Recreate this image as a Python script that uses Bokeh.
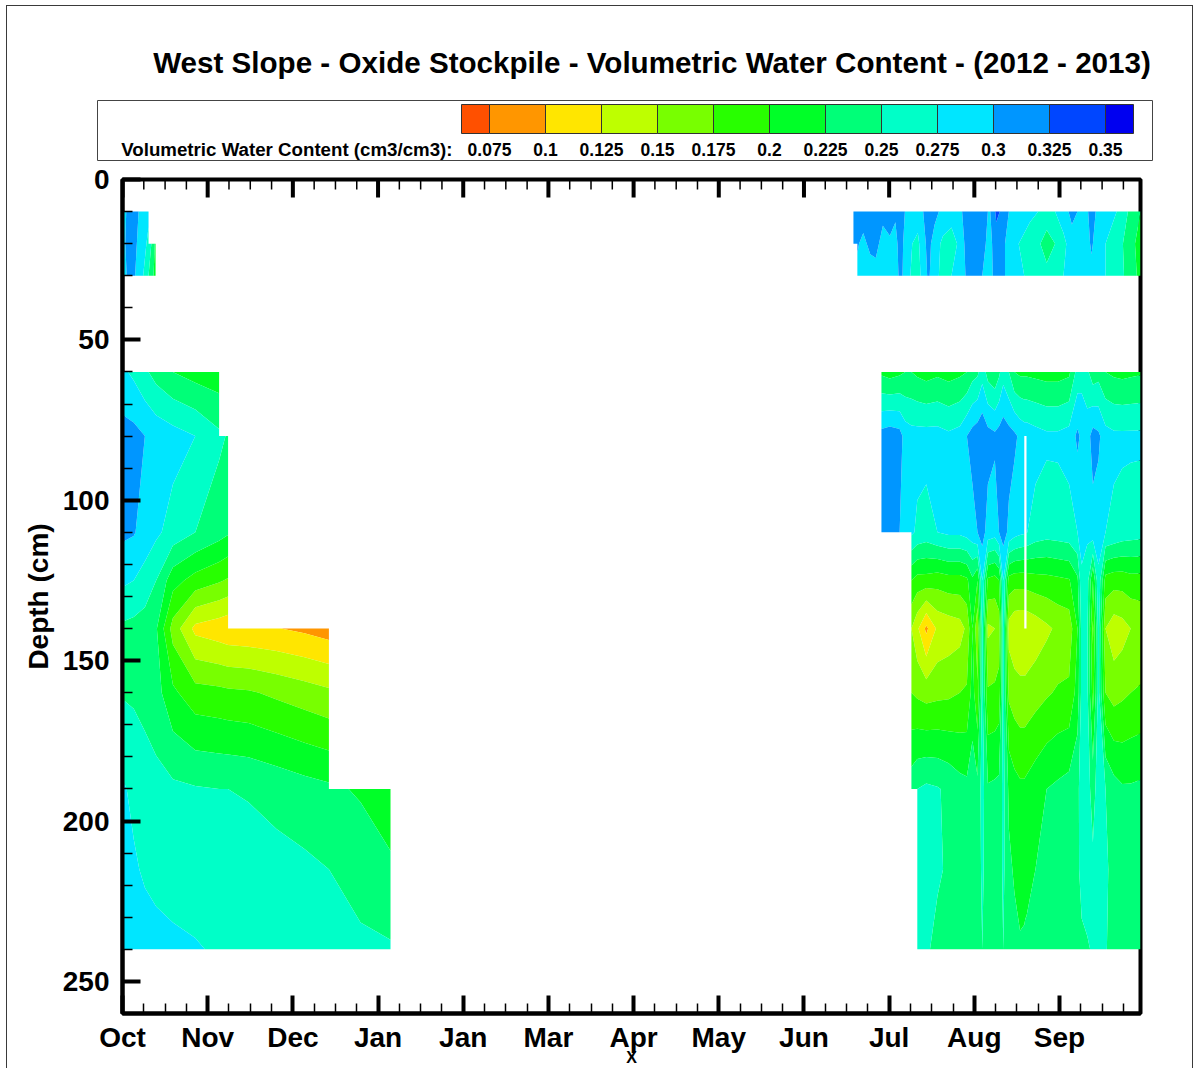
import numpy as np
from bokeh.plotting import figure
from bokeh.layouts import column
from bokeh.models import Range1d, FixedTicker
from bokeh.core.properties import value
from bokeh.embed import file_html
from bokeh.resources import INLINE

nan = float("nan")

# ---------------------------------------------------------------- texts / ticks
TITLE = "West Slope - Oxide Stockpile - Volumetric Water Content - (2012 - 2013)"
LEGEND_TITLE = "Volumetric Water Content (cm3/cm3):"
MONTH_LABELS = ["Oct", "Nov", "Dec", "Jan", "Jan", "Mar", "Apr", "May", "Jun", "Jul", "Aug", "Sep"]
MONTH_TICKS = list(range(12))
MINOR_MONTH_TICKS = [k / 4 for k in range(48) if k % 4]
DEPTH_TICKS = [0, 50, 100, 150, 200, 250]
MINOR_DEPTH_TICKS = list(range(0, 261, 10))
Y_LABEL = "Depth (cm)"
X_LABEL = "X"

# ---------------------------------------------------------------- colour levels
LEVELS = [0.075, 0.1, 0.125, 0.15, 0.175, 0.2, 0.225, 0.25, 0.275, 0.3, 0.325, 0.35]
COLORS = ["#ff5000", "#ff9600", "#ffe600", "#beff00", "#78ff00", "#28ff00", "#00ff28",
          "#00ff78", "#00ffc8", "#00e6ff", "#0096ff", "#0046ff", "#0000f0"]

DAYS_PER_MONTH = 365 / 12
X_END_DAYS = 363.5
DEPTH_MAX = 260

# ---------------------------------------------------------------- sensor data
TOP_DEPTHS = [10, 20, 30]
LOW_DEPTHS = [60, 80, 110, 125, 140, 160, 190, 215, 240]

# upper sensors, autumn 2012 (days since 1 Oct 2012)
TL_DAYS = [0, 2, 4.5, 7, 9.3, 11.8]
TL_VWC = [
    [0.29, 0.305, 0.31, 0.29, 0.28, nan],
    [0.29, 0.31, 0.305, 0.285, 0.27, 0.22],
    [0.285, 0.305, 0.30, 0.28, 0.25, 0.215],
]

# upper sensors, summer 2013
TR_DAYS = [261, 262.4, 264.5, 267, 269, 271.5, 274, 276, 277.8, 280, 284, 287.8, 290, 293,
           296, 299, 301, 303, 305, 307, 309.5, 312, 314.5, 317, 320, 324, 327, 330, 333,
           336, 339, 342, 344, 346, 348, 351, 355, 359, 363.5]
TR_VWC = [
    [0.315, 0.318, 0.31, 0.32, 0.322, 0.308, 0.315, 0.305, 0.325, 0.29, 0.285, 0.315, 0.31, 0.29,
     0.285, 0.29, 0.315, 0.31, 0.325, 0.32, 0.295, 0.33, 0.32, 0.295, 0.29, 0.28, 0.275, 0.27,
     0.275, 0.285, 0.31, 0.295, 0.29, 0.315, 0.295, 0.285, 0.275, 0.25, 0.225],
    [0.308, 0.302, 0.295, 0.305, 0.308, 0.29, 0.295, 0.29, 0.315, 0.28, 0.27, 0.31, 0.285, 0.27,
     0.265, 0.28, 0.305, 0.30, 0.315, 0.31, 0.29, 0.315, 0.305, 0.285, 0.275, 0.265, 0.255,
     0.235, 0.25, 0.27, 0.285, 0.285, 0.285, 0.305, 0.285, 0.275, 0.265, 0.238, 0.215],
    [nan, 0.295, 0.29, 0.29, 0.29, 0.285, 0.285, 0.285, 0.31, 0.28, 0.265, 0.305, 0.28, 0.27,
     0.275, 0.285, 0.30, 0.305, 0.31, 0.30, 0.29, 0.31, 0.305, 0.285, 0.28, 0.27, 0.265, 0.26,
     0.265, 0.275, 0.28, 0.28, 0.28, 0.29, 0.28, 0.275, 0.265, 0.242, 0.218],
]

# lower sensors, autumn 2012
LB_DAYS = [0, 4, 8, 12, 18, 26, 34.5, 37.7, 45, 55, 65, 73.7, 85, 95.7]
LB_VWC = [
    [0.28, 0.27, 0.255, 0.24, 0.225, 0.215, 0.21, nan, nan, nan, nan, nan, nan, nan],
    [0.31, 0.308, 0.30, 0.292, 0.285, 0.275, 0.255, 0.248, nan, nan, nan, nan, nan, nan],
    [0.305, 0.302, 0.29, 0.28, 0.265, 0.25, 0.235, 0.228, nan, nan, nan, nan, nan, nan],
    [0.28, 0.275, 0.265, 0.25, 0.21, 0.19, 0.178, 0.172, nan, nan, nan, nan, nan, nan],
    [0.245, 0.242, 0.238, 0.228, 0.165, 0.118, 0.11, 0.106, 0.104, 0.101, 0.095, 0.088, nan, nan],
    [0.248, 0.246, 0.242, 0.235, 0.205, 0.185, 0.182, 0.18, 0.178, 0.17, 0.162, 0.155, nan, nan],
    [0.278, 0.27, 0.262, 0.258, 0.255, 0.252, 0.25, 0.25, 0.248, 0.242, 0.235, 0.23, 0.222, 0.215],
    [0.285, 0.278, 0.272, 0.268, 0.265, 0.263, 0.262, 0.261, 0.26, 0.258, 0.255, 0.25, 0.24, 0.228],
    [0.29, 0.288, 0.285, 0.283, 0.28, 0.277, 0.272, 0.27, 0.267, 0.263, 0.26, 0.258, 0.255, 0.253],
]

# lower sensors, summer 2013
RB_DAYS = [271, 274, 277.5, 279.5, 281.7, 283.8, 287, 291, 295, 299, 301.5, 303.5, 305.3, 307,
           309, 311.5, 313, 314.5, 316.5, 318.5, 320.5, 322.0, 322.4, 322.8, 326, 330, 334, 338,
           341, 342.5, 344.5, 346.5, 348.5, 351, 354, 357, 360, 363.5]
RB_VWC = [
    [0.22, 0.215, 0.22, 0.225, 0.225, 0.22, 0.215, 0.22, 0.215, 0.22, 0.225, 0.24, 0.245, 0.265,
     0.24, 0.23, 0.245, 0.265, 0.25, 0.225, 0.22, 0.22, 0.22, 0.22, 0.218, 0.215, 0.215, 0.22,
     0.26, 0.265, 0.255, 0.235, 0.24, 0.225, 0.22, 0.218, 0.22, 0.222],
    [0.31, 0.315, 0.31, 0.29, 0.285, 0.285, 0.285, 0.285, 0.28, 0.285, 0.30, 0.31, 0.315, 0.32,
     0.31, 0.305, 0.31, 0.315, 0.31, 0.305, 0.295, 0.29, 0.29, 0.29, 0.285, 0.28, 0.28, 0.285,
     0.305, 0.295, 0.29, 0.31, 0.305, 0.285, 0.28, 0.28, 0.28, 0.28],
    [0.31, 0.31, 0.30, 0.29, 0.28, 0.27, 0.265, 0.275, 0.28, 0.28, 0.285, 0.29, 0.30, 0.31,
     0.29, 0.285, 0.30, 0.31, 0.295, 0.285, 0.28, 0.278, nan, 0.276, 0.265, 0.26, 0.262, 0.265,
     0.275, 0.285, 0.28, 0.29, 0.285, 0.275, 0.27, 0.265, 0.262, 0.26],
    [nan, nan, nan, nan, 0.20, 0.19, 0.19, 0.185, 0.19, 0.19, 0.195, 0.22, 0.2, 0.275,
     0.195, 0.19, 0.2, 0.275, 0.19, 0.185, 0.185, 0.185, nan, 0.186, 0.19, 0.192, 0.195, 0.198,
     0.22, 0.27, 0.26, 0.2, 0.27, 0.19, 0.185, 0.185, 0.19, 0.19],
    [nan, nan, nan, nan, 0.15, 0.13, 0.094, 0.13, 0.135, 0.14, 0.155, 0.2, 0.155, 0.26,
     0.145, 0.15, 0.16, 0.265, 0.14, 0.13, 0.128, 0.128, 0.128, 0.129, 0.135, 0.145, 0.155, 0.16,
     0.2, 0.26, 0.255, 0.17, 0.26, 0.15, 0.135, 0.14, 0.15, 0.155],
    [nan, nan, nan, nan, 0.175, 0.17, 0.165, 0.168, 0.17, 0.175, 0.178, 0.21, 0.18, 0.258,
     0.178, 0.18, 0.185, 0.26, 0.17, 0.162, 0.158, 0.158, 0.158, 0.159, 0.165, 0.172, 0.178, 0.18,
     0.21, 0.258, 0.255, 0.19, 0.258, 0.175, 0.165, 0.17, 0.175, 0.178],
    [nan, nan, nan, nan, 0.24, 0.25, 0.255, 0.252, 0.245, 0.235, 0.232, 0.24, 0.232, 0.26,
     0.228, 0.23, 0.232, 0.258, 0.22, 0.21, 0.205, 0.205, 0.206, 0.207, 0.215, 0.225, 0.23, 0.235,
     0.245, 0.26, 0.26, 0.24, 0.262, 0.25, 0.235, 0.228, 0.228, 0.23],
    [nan, nan, nan, nan, nan, 0.255, 0.26, 0.255, 0.245, 0.238, 0.236, 0.24, 0.236, 0.255,
     0.235, 0.236, 0.236, 0.255, 0.23, 0.222, 0.215, 0.216, 0.217, 0.218, 0.225, 0.232, 0.236,
     0.238, 0.245, 0.258, 0.26, 0.255, 0.26, 0.255, 0.24, 0.235, 0.235, 0.236],
    [nan, nan, nan, nan, nan, 0.26, 0.255, 0.24, 0.238, 0.236, 0.236, 0.238, 0.236, 0.25,
     0.236, 0.237, 0.237, 0.25, 0.236, 0.232, 0.228, 0.229, 0.23, 0.23, 0.234, 0.236, 0.237,
     0.238, 0.24, 0.245, 0.248, 0.252, 0.255, 0.252, 0.24, 0.236, 0.236, 0.237],
]

ZONES = [
    (TL_DAYS, TOP_DEPTHS, TL_VWC),
    (TR_DAYS, TOP_DEPTHS, TR_VWC),
    (LB_DAYS, LOW_DEPTHS, LB_VWC),
    (RB_DAYS, LOW_DEPTHS, RB_VWC),
]

FONT = "Liberation Sans"


def build_grid(days, rows):
    """Sensor table -> contour grid; sharp (rectangular) edges where sensors start/stop."""
    t = np.asarray(days, float)
    z = np.asarray(rows, float)
    if z.shape[1] != t.size:
        raise ValueError("row length mismatch")
    ok = ~np.isnan(z)
    eps = 1e-3
    ts, cols = [t[0]], [z[:, 0]]
    for j in range(t.size - 1):
        if not np.array_equal(ok[:, j], ok[:, j + 1]):
            common = ok[:, j] & ok[:, j + 1]
            ts += [t[j] + eps, t[j + 1] - eps]
            cols += [np.where(common, z[:, j], nan), np.where(common, z[:, j + 1], nan)]
        ts.append(t[j + 1])
        cols.append(z[:, j + 1])
    return np.array(ts) / DAYS_PER_MONTH, np.column_stack(cols)


# ---------------------------------------------------------------- legend / title panel
W = 1199
LEG_H = 162
PX_PER_UNIT = 2240.0
X0 = LEVELS[0] - 489 / PX_PER_UNIT


def px(v):
    return X0 + v / PX_PER_UNIT


leg = figure(width=W, height=LEG_H, x_range=Range1d(X0, px(W)), y_range=Range1d(LEG_H, 0),
             min_border=0, toolbar_location=None, output_backend="svg",
             x_axis_type=None, y_axis_type=None, title=None)
leg.frame_align = False
leg.outline_line_color = None
leg.background_fill_color = None
leg.border_fill_color = None

step = LEVELS[1] - LEVELS[0]
edges = [LEVELS[0] - step / 2] + LEVELS + [LEVELS[-1] + step / 2]
leg.quad(left=[px(97)], right=[px(1152)], top=[100], bottom=[160],
         fill_color="white", line_color="#444444", line_width=1)
leg.quad(left=edges[:-1], right=edges[1:], top=104, bottom=133,
         fill_color=COLORS, line_color="#333333", line_width=1)
leg.text(x=LEVELS, y=[149] * len(LEVELS), text=[f"{v:g}" for v in LEVELS],
         text_font=value(FONT), text_font_style="bold", text_font_size="17.5px",
         text_align="center", text_baseline="middle", text_color="black")
leg.text(x=[px(452)], y=[149], text=[LEGEND_TITLE], text_font=value(FONT),
         text_font_style="bold", text_font_size="18.7px", text_align="right",
         text_baseline="middle", text_color="black")
leg.text(x=[px(651.5)], y=[62], text=[TITLE], text_font=value(FONT), text_font_style="bold",
         text_font_size="29.6px", text_align="center", text_baseline="middle", text_color="black")

# ---------------------------------------------------------------- main contour plot
MAIN_H = 1068 - LEG_H
FRAME_H = 1068 - 179 - 54
DEPTH_PER_PX = DEPTH_MAX / FRAME_H

main = figure(width=W, height=MAIN_H,
              x_range=Range1d(0, X_END_DAYS / DAYS_PER_MONTH), y_range=Range1d(DEPTH_MAX, 0),
              min_border_left=122, min_border_right=59, min_border_top=179 - LEG_H,
              min_border_bottom=54, toolbar_location=None, output_backend="svg", title=None)
main.frame_align = False
main.grid.visible = False
main.outline_line_color = "black"
main.outline_line_width = 4
main.background_fill_color = "white"
main.border_fill_color = None

BOUNDS = [0.0] + LEVELS + [1.0]
for days, depths, rows in ZONES:
    xm, z = build_grid(days, rows)
    X, Y = np.meshgrid(xm, np.asarray(depths, float))
    cr = main.contour(X, Y, np.ma.masked_invalid(z), levels=BOUNDS, fill_color=COLORS,
                      line_color=None)
    fg = cr.fill_renderer.glyph
    fg.line_color = fg.fill_color
    fg.line_width = 0.7

# inward ticks along the top edge
main.segment(x0=MONTH_TICKS, y0=0, x1=MONTH_TICKS, y1=18 * DEPTH_PER_PX,
             line_color="black", line_width=4)
main.segment(x0=MINOR_MONTH_TICKS, y0=0, x1=MINOR_MONTH_TICKS, y1=10 * DEPTH_PER_PX,
             line_color="black", line_width=1.5)

xa = main.xaxis[0]
xa.ticker = FixedTicker(ticks=MONTH_TICKS, minor_ticks=MINOR_MONTH_TICKS)
xa.major_label_overrides = {i: lab for i, lab in zip(MONTH_TICKS, MONTH_LABELS)}
ya = main.yaxis[0]
ya.ticker = FixedTicker(ticks=DEPTH_TICKS, minor_ticks=MINOR_DEPTH_TICKS)
ya.axis_label = Y_LABEL

for ax in (xa, ya):
    ax.axis_line_width = 4
    ax.axis_line_color = "black"
    ax.major_tick_in = 18
    ax.major_tick_out = 0
    ax.major_tick_line_width = 4
    ax.major_tick_line_color = "black"
    ax.minor_tick_in = 10
    ax.minor_tick_out = 0
    ax.minor_tick_line_width = 1.5
    ax.minor_tick_line_color = "black"
    ax.major_label_text_font = FONT
    ax.major_label_text_font_style = "bold"
    ax.major_label_text_font_size = "28px"
    ax.major_label_text_color = "black"
    ax.axis_label_text_font = FONT
    ax.axis_label_text_font_style = "bold"
    ax.axis_label_text_color = "black"
xa.major_label_standoff = 8
ya.major_label_standoff = 13
ya.axis_label_text_font_size = "28px"
ya.axis_label_standoff = 6
xa.axis_label = X_LABEL
xa.axis_label_text_font_size = "16px"
xa.axis_label_standoff = -7

# thin page frame (top, left, right) behind the transparent figure borders
frame_css = ("linear-gradient(#3a3a3a,#3a3a3a) 6px 5px / 1px 1100px no-repeat, "
             "linear-gradient(#3a3a3a,#3a3a3a) 1192px 5px / 1px 1100px no-repeat, "
             "linear-gradient(#3a3a3a,#3a3a3a) 6px 5px / 1187px 1px no-repeat, white")
layout = column(leg, main, spacing=0, styles={"background": frame_css})
open("out.html", "w").write(file_html(layout, INLINE))
